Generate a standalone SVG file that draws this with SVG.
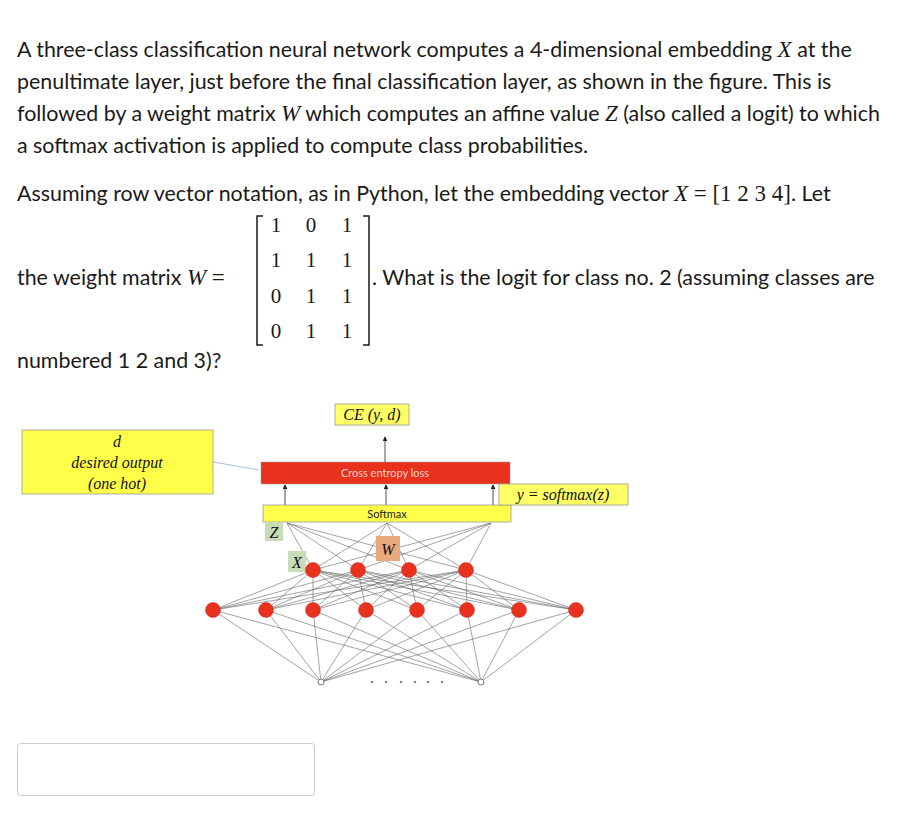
<svg xmlns="http://www.w3.org/2000/svg" width="908" height="818" viewBox="0 0 908 818">
<style>
.t{font-family:Lato,"Liberation Sans",sans-serif;font-size:21.4px;fill:#1a1a1a}
.m{font-family:"Liberation Serif",serif;font-style:italic;font-size:23px}
.e{font-family:"Liberation Serif",serif;font-size:23px}
.n{font-family:"Liberation Serif",serif;font-size:21px;fill:#1a1a1a}
.s{font-family:"Liberation Serif",serif;font-style:italic;font-size:16px;fill:#111}
.w{stroke:#666;stroke-width:0.6;fill:none}
.node{fill:#e8321e;stroke:#c22;stroke-width:0.5}
</style>
<defs><marker id="a" viewBox="0 0 6 6" refX="5" refY="3" markerWidth="5" markerHeight="5" markerUnits="userSpaceOnUse" orient="auto"><path d="M0,0L6,3L0,6z" fill="#222"/></marker></defs>
<rect width="908" height="818" fill="#fff"/>
<g id="text">
<text class="t" x="17" y="57">A three-class classification neural network computes a 4-dimensional embedding <tspan class="m">X</tspan> at the</text>
<text class="t" x="17" y="89">penultimate layer, just before the final classification layer, as shown in the figure.  This is</text>
<text class="t" x="17" y="121">followed by a weight matrix <tspan class="m">W</tspan> which computes an affine value <tspan class="m">Z</tspan> (also called a logit) to which</text>
<text class="t" x="17" y="153">a softmax activation is applied to compute class probabilities.</text>
<text class="t" x="17" y="201">Assuming row vector notation, as in Python,  let the embedding vector <tspan class="m">X</tspan><tspan class="e"> = [1 2 3 4]</tspan>.  Let</text>
<text class="t" x="17" y="285">the weight matrix <tspan class="m">W</tspan><tspan class="e"> =</tspan></text>
<text class="t" x="372" y="285">. What is the logit for class no. 2  (assuming classes are</text>
<text class="t" x="17" y="368">numbered 1 2 and 3)?</text>
</g>
<g id="matrix">
<path d="M263,216H257V345H263M363,216H369V345H363" stroke="#1a1a1a" stroke-width="1.5" fill="none"/>
<g class="n" text-anchor="middle">
<text x="276" y="232">1</text><text x="311" y="232">0</text><text x="347" y="232">1</text>
<text x="276" y="267">1</text><text x="311" y="267">1</text><text x="347" y="267">1</text>
<text x="276" y="303">0</text><text x="311" y="303">1</text><text x="347" y="303">1</text>
<text x="276" y="338">0</text><text x="311" y="338">1</text><text x="347" y="338">1</text>
</g>
</g>
<g id="connectors">
<g class="w">
<path d="M213,610L321,682M266,610L321,682M313,610L321,682M366,610L321,682M417,610L321,682M467,610L321,682M519,610L321,682M576,610L321,682"/>
<path d="M213,610L481,682M266,610L481,682M313,610L481,682M366,610L481,682M417,610L481,682M467,610L481,682M519,610L481,682M576,610L481,682"/>
<path d="M213,610L313,570M266,610L313,570M313,610L313,570M366,610L313,570M417,610L313,570M467,610L313,570M519,610L313,570M576,610L313,570"/>
<path d="M213,610L358,570M266,610L358,570M313,610L358,570M366,610L358,570M417,610L358,570M467,610L358,570M519,610L358,570M576,610L358,570"/>
<path d="M213,610L409,570M266,610L409,570M313,610L409,570M366,610L409,570M417,610L409,570M467,610L409,570M519,610L409,570M576,610L409,570"/>
<path d="M213,610L466,570M266,610L466,570M313,610L466,570M366,610L466,570M417,610L466,570M467,610L466,570M519,610L466,570M576,610L466,570"/>
<path d="M313,570L287,523M313,570L387,523M313,570L491,523M358,570L287,523M358,570L387,523M358,570L491,523M409,570L287,523M409,570L387,523M409,570L491,523M466,570L287,523M466,570L387,523M466,570L491,523"/>
</g>
<g stroke="#222" stroke-width="0.8" fill="none" marker-end="url(#a)">
<path d="M385,462V437"/><path d="M285,505V485"/><path d="M386,505V485"/><path d="M493,505V485"/>
</g>
<path d="M213,462L259,470" stroke="#8ab0e0" stroke-width="0.8" fill="none"/>
</g>
<g id="loss"><rect x="261" y="462" width="249" height="22" fill="#e8321e" stroke="#999" stroke-width="0.5"/><text x="385" y="477" font-family="Lato,'Liberation Sans',sans-serif" font-size="11" fill="#f4d0c8" text-anchor="middle">Cross entropy loss</text></g>
<g id="ce"><rect x="335" y="404" width="74" height="21" fill="#ffff66" stroke="#999" stroke-width="0.8"/><text x="372" y="420" class="s" text-anchor="middle">CE (y, d)</text></g>
<g id="desired"><rect x="22" y="430" width="191" height="64" fill="#ffff4a" stroke="#999" stroke-width="0.8"/>
<text class="s" x="117" y="447" text-anchor="middle" font-size="15">d</text>
<text class="s" x="117" y="468" text-anchor="middle" font-size="15">desired output</text>
<text class="s" x="117" y="489" text-anchor="middle" font-size="15">(one hot)</text></g>
<g id="softmax"><rect x="263" y="505" width="248" height="17" fill="#ffff4a" stroke="#999" stroke-width="0.8"/><text x="387" y="518" font-family="Lato,'Liberation Sans',sans-serif" font-size="11" fill="#222" text-anchor="middle">Softmax</text></g>
<g id="ylabel"><rect x="499" y="484" width="129" height="21" fill="#ffff66" stroke="#999" stroke-width="0.8"/><text x="563" y="500" class="s" text-anchor="middle">y = softmax(z)</text></g>
<g id="zlabel"><rect x="265" y="522" width="18" height="19" fill="#c8dcb8"/><text x="274" y="538" class="s" text-anchor="middle">Z</text></g>
<g id="xlabel"><rect x="288" y="551" width="18" height="21" fill="#c8dcb8"/><text x="297" y="568" class="s" text-anchor="middle">X</text></g>
<g id="wlabel"><rect x="376" y="536" width="24" height="25" fill="#e8a87c"/><text x="388" y="555" class="s" text-anchor="middle">W</text></g>
<g id="xnodes"><circle class="node" cx="313" cy="570" r="7.5"/><circle class="node" cx="358" cy="570" r="7.5"/><circle class="node" cx="409" cy="570" r="7.5"/><circle class="node" cx="466" cy="570" r="7.5"/></g>
<g id="hnodes"><circle class="node" cx="213" cy="610" r="7.5"/><circle class="node" cx="266" cy="610" r="7.5"/><circle class="node" cx="313" cy="610" r="7.5"/><circle class="node" cx="366" cy="610" r="7.5"/><circle class="node" cx="417" cy="610" r="7.5"/><circle class="node" cx="467" cy="610" r="7.5"/><circle class="node" cx="519" cy="610" r="7.5"/><circle class="node" cx="576" cy="610" r="7.5"/></g>
<g id="inputs"><circle cx="321" cy="682" r="3" fill="#fff" stroke="#777"/><circle cx="481" cy="682" r="3" fill="#fff" stroke="#777"/>
<g fill="#888"><circle cx="372" cy="682" r="1.3"/><circle cx="386" cy="682" r="1.3"/><circle cx="401" cy="682" r="1.3"/><circle cx="415" cy="682" r="1.3"/><circle cx="428" cy="682" r="1.3"/><circle cx="442" cy="682" r="1.3"/></g></g>
<g id="answer"><rect x="17.5" y="743.5" width="297" height="52" rx="3" fill="#fff" stroke="#ccc"/></g>
</svg>
